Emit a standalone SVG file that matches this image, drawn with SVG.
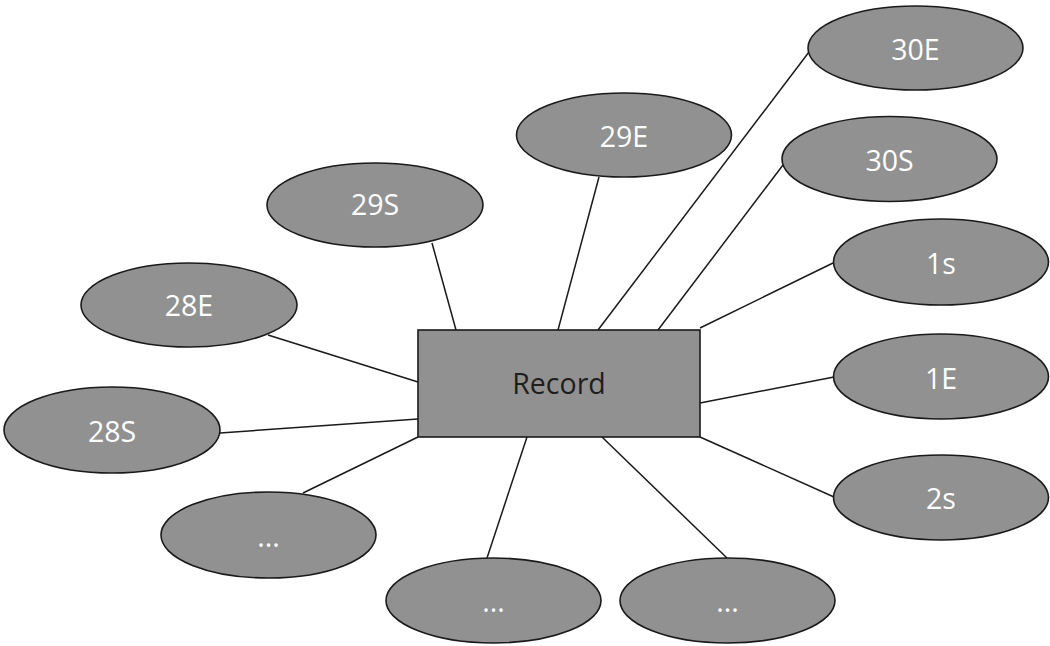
<svg xmlns="http://www.w3.org/2000/svg" width="1050" height="646" viewBox="0 0 1050 646">
  <style>
    .bg { fill: #ffffff; }
    .node ellipse, .node rect { fill: #919191; stroke: #1a1a1a; stroke-width: 1.6; }
    .node text { font-family: "Open Sans", "Liberation Sans", sans-serif; font-size: 28.5px; text-anchor: middle; fill: #ffffff; }
    #record text { fill: #1e1e1e; }
    #connectors line { stroke: #1a1a1a; stroke-width: 1.5; }
  </style>
  <rect class="bg" x="0" y="0" width="1050" height="646"/>

  <!-- spokes from the central record to each attribute -->
  <g id="connectors">
    <line x1="598" y1="330" x2="809" y2="52"/>
    <line x1="558" y1="330" x2="599" y2="177"/>
    <line x1="658" y1="330" x2="783" y2="165"/>
    <line x1="456" y1="330" x2="432" y2="243"/>
    <line x1="418" y1="382" x2="268" y2="335"/>
    <line x1="418" y1="419" x2="220" y2="433"/>
    <line x1="418" y1="437" x2="303" y2="493"/>
    <line x1="527" y1="437" x2="487" y2="558"/>
    <line x1="602" y1="437" x2="727" y2="558"/>
    <line x1="700" y1="328" x2="833" y2="263"/>
    <line x1="700" y1="403" x2="834" y2="377"/>
    <line x1="700" y1="437" x2="834" y2="497"/>
  </g>

  <g id="record" class="node">
    <rect x="418" y="330" width="282" height="107"/>
    <text x="559" y="394">Record</text>
  </g>

  <g id="n30E" class="node">
    <ellipse cx="915.5" cy="48" rx="107.5" ry="42"/>
    <text x="915.5" y="60">30E</text>
  </g>
  <g id="n29E" class="node">
    <ellipse cx="624" cy="135" rx="107.5" ry="42"/>
    <text x="624" y="147">29E</text>
  </g>
  <g id="n30S" class="node">
    <ellipse cx="889.5" cy="159" rx="107.5" ry="42.5"/>
    <text x="889.5" y="171">30S</text>
  </g>
  <g id="n29S" class="node">
    <ellipse cx="375" cy="205" rx="108" ry="42"/>
    <text x="375" y="215">29S</text>
  </g>
  <g id="n1s" class="node">
    <ellipse cx="941" cy="262" rx="107.5" ry="43"/>
    <text x="941" y="274">1s</text>
  </g>
  <g id="n28E" class="node">
    <ellipse cx="189" cy="305" rx="108" ry="42"/>
    <text x="189" y="316">28E</text>
  </g>
  <g id="n1E" class="node">
    <ellipse cx="941" cy="376.5" rx="107.5" ry="42.5"/>
    <text x="941" y="389">1E</text>
  </g>
  <g id="n28S" class="node">
    <ellipse cx="112" cy="430" rx="108" ry="43"/>
    <text x="112" y="442">28S</text>
  </g>
  <g id="n2s" class="node">
    <ellipse cx="941" cy="497.5" rx="107.5" ry="42.5"/>
    <text x="941" y="509">2s</text>
  </g>
  <g id="nMoreLeft" class="node">
    <ellipse cx="268.5" cy="535" rx="107.5" ry="43"/>
    <text x="268.5" y="547">...</text>
  </g>
  <g id="nMoreMid" class="node">
    <ellipse cx="493.5" cy="600.5" rx="107.5" ry="42.5"/>
    <text x="493.5" y="612">...</text>
  </g>
  <g id="nMoreRight" class="node">
    <ellipse cx="727.5" cy="600.5" rx="107.5" ry="42.5"/>
    <text x="727.5" y="612">...</text>
  </g>
</svg>
